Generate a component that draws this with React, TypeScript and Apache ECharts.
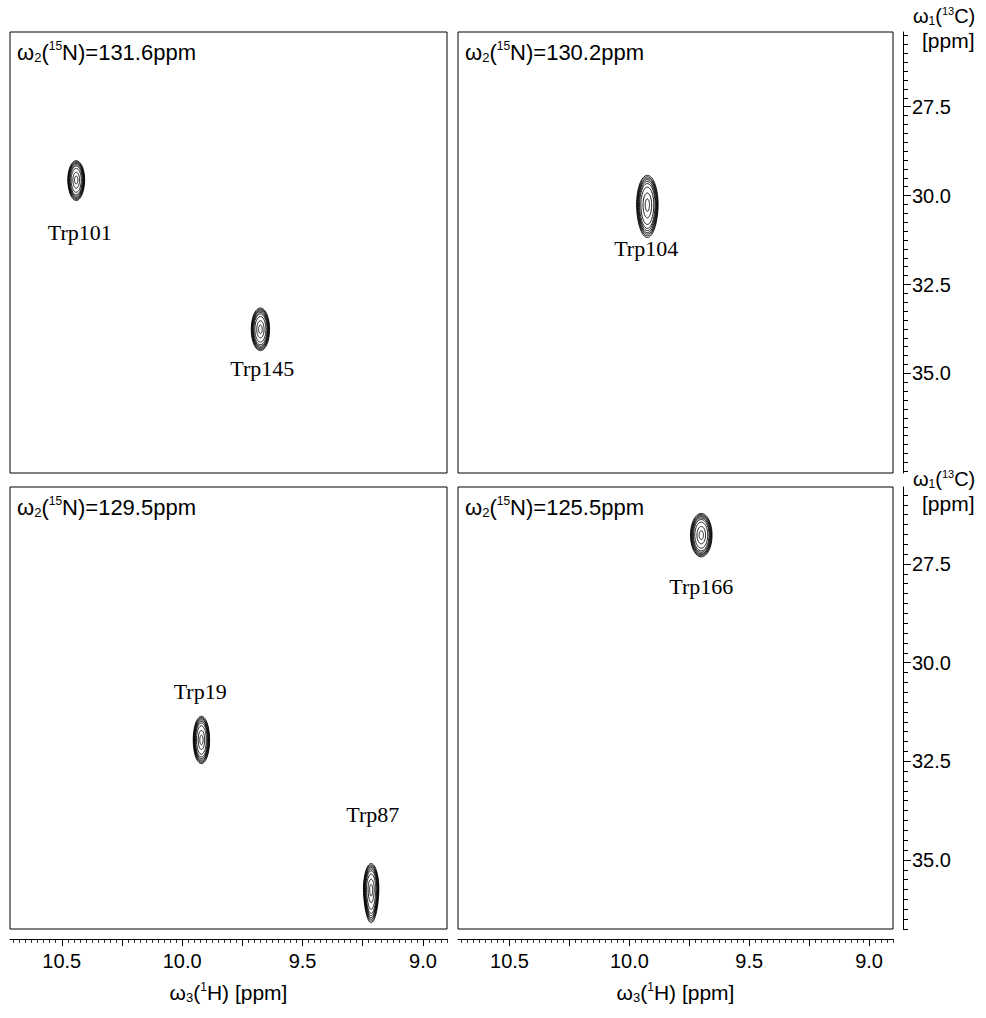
import React, { useEffect, useRef } from "react";
import * as echarts from "echarts";

// ω2(15N) plane shown in each panel: top-left, top-right, bottom-left, bottom-right
const PLANE_15N = ["131.6", "130.2", "129.5", "125.5"];

// peaks (ω3 = 1H ppm, ω1 = 13C ppm)
const PEAK_NAMES = ["Trp101", "Trp145", "Trp104", "Trp19", "Trp87", "Trp166"];
const PEAK_PANEL = [0, 0, 1, 2, 2, 3];
const PEAK_1H = [10.44, 9.675, 9.925, 9.92, 9.215, 9.7];
const PEAK_13C = [29.56, 33.76, 30.26, 31.96, 35.75, 26.77];
const PEAK_1H_HALF = [0.035, 0.038, 0.045, 0.034, 0.032, 0.045];
const PEAK_13C_HALF = [0.55, 0.6, 0.85, 0.6, 0.7, 0.55];
const PEAK_TAIL = [0.05, 0.0, 0.08, 0.0, 0.2, 0.0];
const LABEL_1H = [10.425, 9.667, 9.93, 9.925, 9.208, 9.7];
const LABEL_13C = [31.05, 34.86, 31.5, 30.74, 33.85, 28.08];

// contour levels (fraction of outer contour)
const LEVELS = [1, 0.95, 0.9, 0.85, 0.79, 0.72, 0.6, 0.4, 0.2];

// axes
const X_RANGE = [8.9, 10.715];
const TOP_13C_RANGE = [25.4, 37.8];
const BOTTOM_13C_RANGE = [25.55, 36.75];
const X_LABEL_VALUES = [9.0, 9.5, 10.0, 10.5];
const X_MAJOR_TICKS = [9.0, 9.25, 9.5, 9.75, 10.0, 10.25, 10.5];
const X_MINOR_STEP = 0.025;
const Y_LABEL_VALUES = [27.5, 30.0, 32.5, 35.0];
const Y_MINOR_STEP = 0.25;

function stepValues(min: number, max: number, step: number) {
  const out: number[] = [];
  const a = Math.ceil(min / step - 1e-9);
  const b = Math.floor(max / step + 1e-9);
  for (let i = a; i <= b; i++) out.push(+(i * step).toFixed(4));
  return out;
}

const SANS = "Liberation Sans, Arial, Helvetica, sans-serif";
const SERIF = "Liberation Serif, Times New Roman, serif";

const GRIDS = [
  { left: 10, top: 32, width: 437, height: 441 },
  { left: 458, top: 32, width: 435, height: 441 },
  { left: 10, top: 487, width: 437, height: 442 },
  { left: 458, top: 487, width: 435, height: 442 },
];

function rich(size: number) {
  return {
    w: { fontSize: size, fontFamily: SANS, color: "#000", lineHeight: size + 2 },
    sub: { fontSize: Math.round(size * 0.6), fontFamily: SANS, color: "#000", lineHeight: Math.round(size * 0.6) + 1, verticalAlign: "bottom" },
    sup: { fontSize: Math.round(size * 0.55), fontFamily: SANS, color: "#000", lineHeight: Math.round(size * 0.55) + 1, verticalAlign: "top" },
  };
}

export default function App() {
  const ref = useRef<HTMLDivElement>(null);
  useEffect(() => {
    if (!ref.current) return;
    const chart = echarts.init(ref.current, undefined, { renderer: "svg" });

    const xAxes: any[] = [];
    const yAxes: any[] = [];
    for (let i = 0; i < 4; i++) {
      const bottom = i >= 2;
      xAxes.push({
        type: "value",
        gridIndex: i,
        min: X_RANGE[0],
        max: X_RANGE[1],
        inverse: true,
        show: bottom,
        position: "bottom",
        offset: 10,
        axisLine: { show: true, lineStyle: { color: "#000", width: 1 } },
        axisTick: { show: true, length: 7, customValues: X_MAJOR_TICKS, lineStyle: { color: "#000", width: 1 } },
        axisLabel: {
          show: true,
          customValues: X_LABEL_VALUES,
          formatter: (v: number) => v.toFixed(1),
          color: "#000",
          fontSize: 20,
          fontFamily: SANS,
          margin: 12,
        },
        splitLine: { show: false },
      });
    }
    for (let i = 0; i < 4; i++) {
      const right = i % 2 === 1;
      const range = i < 2 ? TOP_13C_RANGE : BOTTOM_13C_RANGE;
      yAxes.push({
        type: "value",
        gridIndex: i,
        min: range[0],
        max: range[1],
        inverse: true,
        show: right,
        position: "right",
        offset: 10,
        axisLine: { show: true, lineStyle: { color: "#000", width: 1 } },
        axisTick: { show: true, length: 8, customValues: Y_LABEL_VALUES, lineStyle: { color: "#000", width: 1 } },
        axisLabel: {
          show: true,
          customValues: Y_LABEL_VALUES,
          formatter: (v: number) => v.toFixed(1),
          color: "#000",
          fontSize: 20,
          fontFamily: SANS,
          margin: 9,
        },
        splitLine: { show: false },
      });
    }
    // minor tick axes
    for (let i = 2; i < 4; i++) {
      xAxes.push({
        type: "value",
        gridIndex: i,
        min: X_RANGE[0],
        max: X_RANGE[1],
        inverse: true,
        position: "bottom",
        offset: 10,
        axisLine: { show: false },
        axisTick: {
          show: true,
          length: 4,
          customValues: stepValues(X_RANGE[0], X_RANGE[1], X_MINOR_STEP),
          lineStyle: { color: "#000", width: 0.8 },
        },
        axisLabel: { show: false },
        splitLine: { show: false },
      });
    }
    for (const i of [1, 3]) {
      const range = i < 2 ? TOP_13C_RANGE : BOTTOM_13C_RANGE;
      yAxes.push({
        type: "value",
        gridIndex: i,
        min: range[0],
        max: range[1],
        inverse: true,
        position: "right",
        offset: 10,
        axisLine: { show: false },
        axisTick: {
          show: true,
          length: 5,
          customValues: stepValues(range[0], range[1], Y_MINOR_STEP),
          lineStyle: { color: "#000", width: 1 },
        },
        axisLabel: { show: false },
        splitLine: { show: false },
      });
    }

    const series: any[] = [];
    for (let p = 0; p < 4; p++) {
      const idx = PEAK_NAMES.map((_, k) => k).filter((k) => PEAK_PANEL[k] === p);
      series.push({
        type: "custom",
        xAxisIndex: p,
        yAxisIndex: p,
        clip: false,
        data: idx.map((k) => ({
          name: PEAK_NAMES[k],
          value: [PEAK_1H[k], PEAK_13C[k], PEAK_1H_HALF[k], PEAK_13C_HALF[k], PEAK_TAIL[k], LABEL_1H[k], LABEL_13C[k]],
        })),
        renderItem: (params: any, api: any) => {
          const h = api.value(0);
          const c = api.value(1);
          const hw = api.value(2);
          const cw = api.value(3);
          const tail = api.value(4);
          const children: any[] = [];
          LEVELS.forEach((lv) => {
            const pts: number[][] = [];
            const n = 60;
            for (let j = 0; j < n; j++) {
              const t = (j / n) * Math.PI * 2;
              const s = Math.sin(t);
              const dy = cw * lv * s * (s > 0 ? 1 + tail : 1 - tail * 0.3);
              const dx = hw * lv * Math.cos(t) * (s > 0 ? 1 - tail * 0.5 * s : 1);
              pts.push(api.coord([h + dx, c + dy]));
            }
            children.push({
              type: "polygon",
              shape: { points: pts },
              style: { fill: "none", stroke: "#000", lineWidth: 0.9 },
            });
          });
          const lp = api.coord([api.value(5), api.value(6)]);
          children.push({
            type: "text",
            x: lp[0],
            y: lp[1],
            style: {
              text: PEAK_NAMES[idx[params.dataIndex]],
              fontSize: 22,
              fontFamily: SERIF,
              fill: "#000",
              align: "center",
              verticalAlign: "middle",
            },
          });
          return { type: "group", children };
        },
      });
    }

    const graphics: any[] = [];
    PLANE_15N.forEach((v, i) => {
      const g = GRIDS[i];
      graphics.push({
        type: "text",
        left: g.left + 7,
        top: g.top + 8,
        style: {
          text: `{w|ω}{sub|2}{w|(}{sup|15}{w|N)=${v}ppm}`,
          rich: rich(22),
        },
      });
    });
    // right axis titles
    [0, 1].forEach((r) => {
      const top = r === 0 ? 5 : 468;
      graphics.push({
        type: "text",
        left: 913,
        top,
        style: { text: "{w|ω}{sub|1}{w|(}{sup|13}{w|C)}", rich: rich(20) },
      });
      graphics.push({
        type: "text",
        left: 922,
        top: top + 25,
        style: { text: "[ppm]", fontSize: 21, fontFamily: SANS, fill: "#000" },
      });
    });
    // bottom axis titles
    [2, 3].forEach((i) => {
      const g = GRIDS[i];
      graphics.push({
        type: "text",
        x: g.left + g.width / 2,
        y: 992,
        style: {
          text: "{w|ω}{sub|3}{w|(}{sup|1}{w|H) [ppm]}",
          rich: rich(21),
          align: "center",
          verticalAlign: "middle",
        },
      });
    });

    chart.setOption({
      animation: false,
      backgroundColor: "#fff",
      grid: GRIDS.map((g) => ({
        ...g,
        show: true,
        borderColor: "#000",
        borderWidth: 1,
        backgroundColor: "transparent",
        containLabel: false,
      })),
      xAxis: xAxes,
      yAxis: yAxes,
      series,
      graphic: graphics,
    });
    return () => chart.dispose();
  }, []);
  return (
    <div
      ref={ref}
      style={{ position: "absolute", left: 0, top: 0, width: 986, height: 1018, background: "#fff" }}
    />
  );
}
